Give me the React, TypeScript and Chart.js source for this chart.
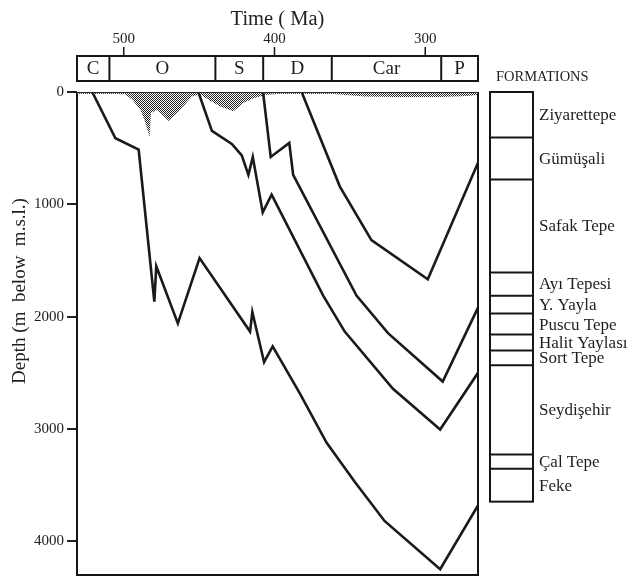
import React, { useEffect, useRef } from "react";
import { Chart, registerables } from "chart.js";

Chart.register(...registerables);

const SERIF = '"Liberation Serif", "Times New Roman", serif';

const X_TICKS = [500, 400, 300];
const Y_TICKS = [0, 1000, 2000, 3000, 4000];
const TIME_MIN = 265;
const TIME_MAX = 531;
const DEPTH_MAX = 4300;

const PERIOD_LABELS = ["C", "O", "S", "D", "Car", "P"];
const PERIOD_BOUNDS = [531, 509.5, 439.2, 407.5, 362, 289.4, 265];

const FORMATION_NAMES = [
  "Ziyarettepe",
  "Gümüşali",
  "Safak Tepe",
  "Ayı Tepesi",
  "Y. Yayla",
  "Puscu Tepe",
  "Halit Yaylası",
  "Sort Tepe",
  "Seydişehir",
  "Çal Tepe",
  "Feke",
];
const FORMATION_TOPS = [0, 404, 779, 1606, 1813, 1973, 2160, 2302, 2433, 3228, 3354, 3647];

const A_TIME = [520.9, 505.5, 490.1, 479.7, 478.4, 464.1, 449.7, 416.2, 414.7, 406.9, 401.2, 383.1, 365.5, 346.8, 327, 290.1, 265];
const A_DEPTH = [0, 412, 512, 1866, 1552, 2060, 1479, 2133, 1959, 2404, 2264, 2685, 3121, 3470, 3819, 4249, 3680];

const B_TIME = [450.5, 441.5, 428.3, 421.7, 417.3, 414.4, 407.8, 401.9, 367.7, 353.4, 321.4, 290.1, 265];
const B_DEPTH = [0, 346, 462, 564, 738, 578, 1072, 913, 1813, 2133, 2642, 3005, 2500];

const C_TIME = [407.6, 402.5, 390.2, 387.6, 345.6, 324.7, 288.4, 265];
const C_DEPTH = [0, 578, 453, 738, 1813, 2147, 2578, 1920];

const D_TIME = [382, 356.7, 335.7, 298.3, 265];
const D_DEPTH = [0, 840, 1319, 1668, 630];

const SHADE_TIME = [531, 521, 505, 499, 494.4, 488.9, 485.6, 482.8, 481.9, 477.9, 470.2, 462.5, 454.8, 449.3, 443.8, 436, 427.2, 420.6, 414, 406.3, 398.5, 360, 350, 340, 320, 290, 272, 265];
const SHADE_DEPTH = [15, 18, 18, 20, 70, 157, 273, 404, 186, 157, 259, 157, 41, 20, 70, 128, 172, 99, 55, 26, 18, 18, 30, 40, 45, 45, 35, 25];

const zip = (t: number[], d: number[]) => t.map((x, i) => ({ x, y: d[i] }));

const decorPlugin = {
  id: "decor",
  afterDraw(chart: any) {
    const { ctx, chartArea: area } = chart;
    const xs = chart.scales.x;
    const ys = chart.scales.y;
    ctx.save();
    ctx.strokeStyle = "#161616";
    ctx.fillStyle = "#1e1e1e";

    // plot frame
    ctx.lineWidth = 2;
    ctx.beginPath();
    ctx.moveTo(area.left, area.top);
    ctx.lineTo(area.left, area.bottom);
    ctx.lineTo(area.right, area.bottom);
    ctx.lineTo(area.right, area.top);
    ctx.stroke();
    ctx.setLineDash([1, 1]);
    ctx.strokeStyle = "#333";
    ctx.beginPath();
    ctx.moveTo(area.left, area.top + 1);
    ctx.lineTo(area.right, area.top + 1);
    ctx.stroke();
    ctx.setLineDash([]);
    ctx.strokeStyle = "#161616";

    // period bar
    const barTop = 56;
    const barBot = 81;
    const bx0 = xs.getPixelForValue(PERIOD_BOUNDS[0]);
    const bx1 = xs.getPixelForValue(PERIOD_BOUNDS[PERIOD_BOUNDS.length - 1]);
    ctx.lineWidth = 2;
    ctx.strokeRect(bx0, barTop, bx1 - bx0, barBot - barTop);
    ctx.font = `19px ${SERIF}`;
    ctx.textAlign = "center";
    ctx.textBaseline = "middle";
    for (let i = 0; i < PERIOD_LABELS.length; i++) {
      const a = xs.getPixelForValue(PERIOD_BOUNDS[i]);
      const b = xs.getPixelForValue(PERIOD_BOUNDS[i + 1]);
      if (i > 0) {
        ctx.beginPath();
        ctx.moveTo(a, barTop);
        ctx.lineTo(a, barBot);
        ctx.stroke();
      }
      ctx.fillText(PERIOD_LABELS[i], (a + b) / 2, (barTop + barBot) / 2 + 1);
    }
    // top tick marks
    ctx.lineWidth = 1.5;
    for (const v of X_TICKS) {
      const px = xs.getPixelForValue(v);
      ctx.beginPath();
      ctx.moveTo(px, 47);
      ctx.lineTo(px, barTop);
      ctx.stroke();
    }

    // formations column
    const fx0 = area.right + 12;
    const fx1 = area.right + 55;
    const fy0 = ys.getPixelForValue(FORMATION_TOPS[0]);
    const fy1 = ys.getPixelForValue(FORMATION_TOPS[FORMATION_TOPS.length - 1]);
    ctx.lineWidth = 2;
    ctx.strokeRect(fx0, fy0, fx1 - fx0, fy1 - fy0);
    ctx.font = `17px ${SERIF}`;
    ctx.textAlign = "left";
    ctx.textBaseline = "middle";
    for (let i = 0; i < FORMATION_NAMES.length; i++) {
      const a = ys.getPixelForValue(FORMATION_TOPS[i]);
      const b = ys.getPixelForValue(FORMATION_TOPS[i + 1]);
      if (i > 0) {
        ctx.beginPath();
        ctx.moveTo(fx0, a);
        ctx.lineTo(fx1, a);
        ctx.stroke();
      }
      ctx.fillText(FORMATION_NAMES[i], fx1 + 6, (a + b) / 2 + 1);
    }
    ctx.font = `14.5px ${SERIF}`;
    ctx.fillText("FORMATIONS", area.right + 18, 77);

    // y axis title
    ctx.save();
    ctx.translate(20, 291);
    ctx.rotate(-Math.PI / 2);
    ctx.font = `19px ${SERIF}`;
    ctx.textAlign = "center";
    ctx.textBaseline = "middle";
    ctx.fillText("Depth (m  below  m.s.l.)", 0, 0);
    ctx.restore();

    ctx.restore();
  },
};

export default function App() {
  const ref = useRef<HTMLCanvasElement | null>(null);

  useEffect(() => {
    const canvas = ref.current;
    if (!canvas) return;

    const pc = document.createElement("canvas");
    pc.width = 2;
    pc.height = 2;
    const pctx = pc.getContext("2d")!;
    pctx.fillStyle = "#ffffff";
    pctx.fillRect(0, 0, 2, 2);
    pctx.fillStyle = "#222222";
    pctx.fillRect(0, 0, 1, 1);
    pctx.fillRect(1, 1, 1, 1);
    const pattern = canvas.getContext("2d")!.createPattern(pc, "repeat");

    const lineDs = (t: number[], d: number[]) => ({
      data: zip(t, d),
      borderColor: "#1a1a1a",
      borderWidth: 2.6,
      pointRadius: 0,
      fill: false,
      tension: 0,
      borderJoinStyle: "miter" as const,
    });

    const chart = new Chart(canvas, {
      type: "line",
      data: {
        datasets: [
          lineDs(A_TIME, A_DEPTH),
          lineDs(B_TIME, B_DEPTH),
          lineDs(C_TIME, C_DEPTH),
          lineDs(D_TIME, D_DEPTH),
          {
            data: zip(SHADE_TIME, SHADE_DEPTH),
            borderWidth: 0,
            borderColor: "rgba(0,0,0,0)",
            pointRadius: 0,
            fill: "origin",
            backgroundColor: pattern as any,
            tension: 0,
          },
        ],
      },
      options: {
        animation: false,
        responsive: false,
        maintainAspectRatio: false,
        layout: { padding: { left: 0, right: 157, top: 0, bottom: 2 } },
        plugins: { legend: { display: false }, tooltip: { enabled: false } },
        scales: {
          x: {
            type: "linear",
            position: "top",
            reverse: true,
            min: TIME_MIN,
            max: TIME_MAX,
            afterBuildTicks: (s: any) => {
              s.ticks = X_TICKS.map((v) => ({ value: v }));
            },
            afterFit: (s: any) => {
              s.height = 92;
            },
            grid: { display: false, drawTicks: false },
            border: { display: false },
            ticks: {
              padding: 44,
              maxRotation: 0,
              autoSkip: false,
              color: "#222",
              font: { family: SERIF, size: 15 },
              callback: (v: any) => String(v),
            },
            title: {
              display: true,
              text: "Time ( Ma)",
              color: "#222",
              font: { family: SERIF, size: 20.5 },
              padding: { top: 7, bottom: 0 },
            },
          },
          y: {
            type: "linear",
            reverse: true,
            min: 0,
            max: DEPTH_MAX,
            afterBuildTicks: (s: any) => {
              s.ticks = Y_TICKS.map((v) => ({ value: v }));
            },
            afterFit: (s: any) => {
              s.width = 77;
            },
            grid: {
              display: true,
              drawOnChartArea: false,
              drawTicks: true,
              tickLength: 10,
              color: "#222",
              lineWidth: 2,
            },
            border: { display: false },
            ticks: {
              padding: 3,
              color: "#222",
              font: { family: SERIF, size: 15 },
              callback: (v: any) => String(v),
            },
          },
        },
      },
      plugins: [decorPlugin],
    });

    return () => chart.destroy();
  }, []);

  return (
    <div style={{ position: "fixed", left: 0, top: 0, width: 635, height: 587, background: "#fff" }}>
      <canvas ref={ref} width={635} height={587} style={{ display: "block" }} />
    </div>
  );
}
